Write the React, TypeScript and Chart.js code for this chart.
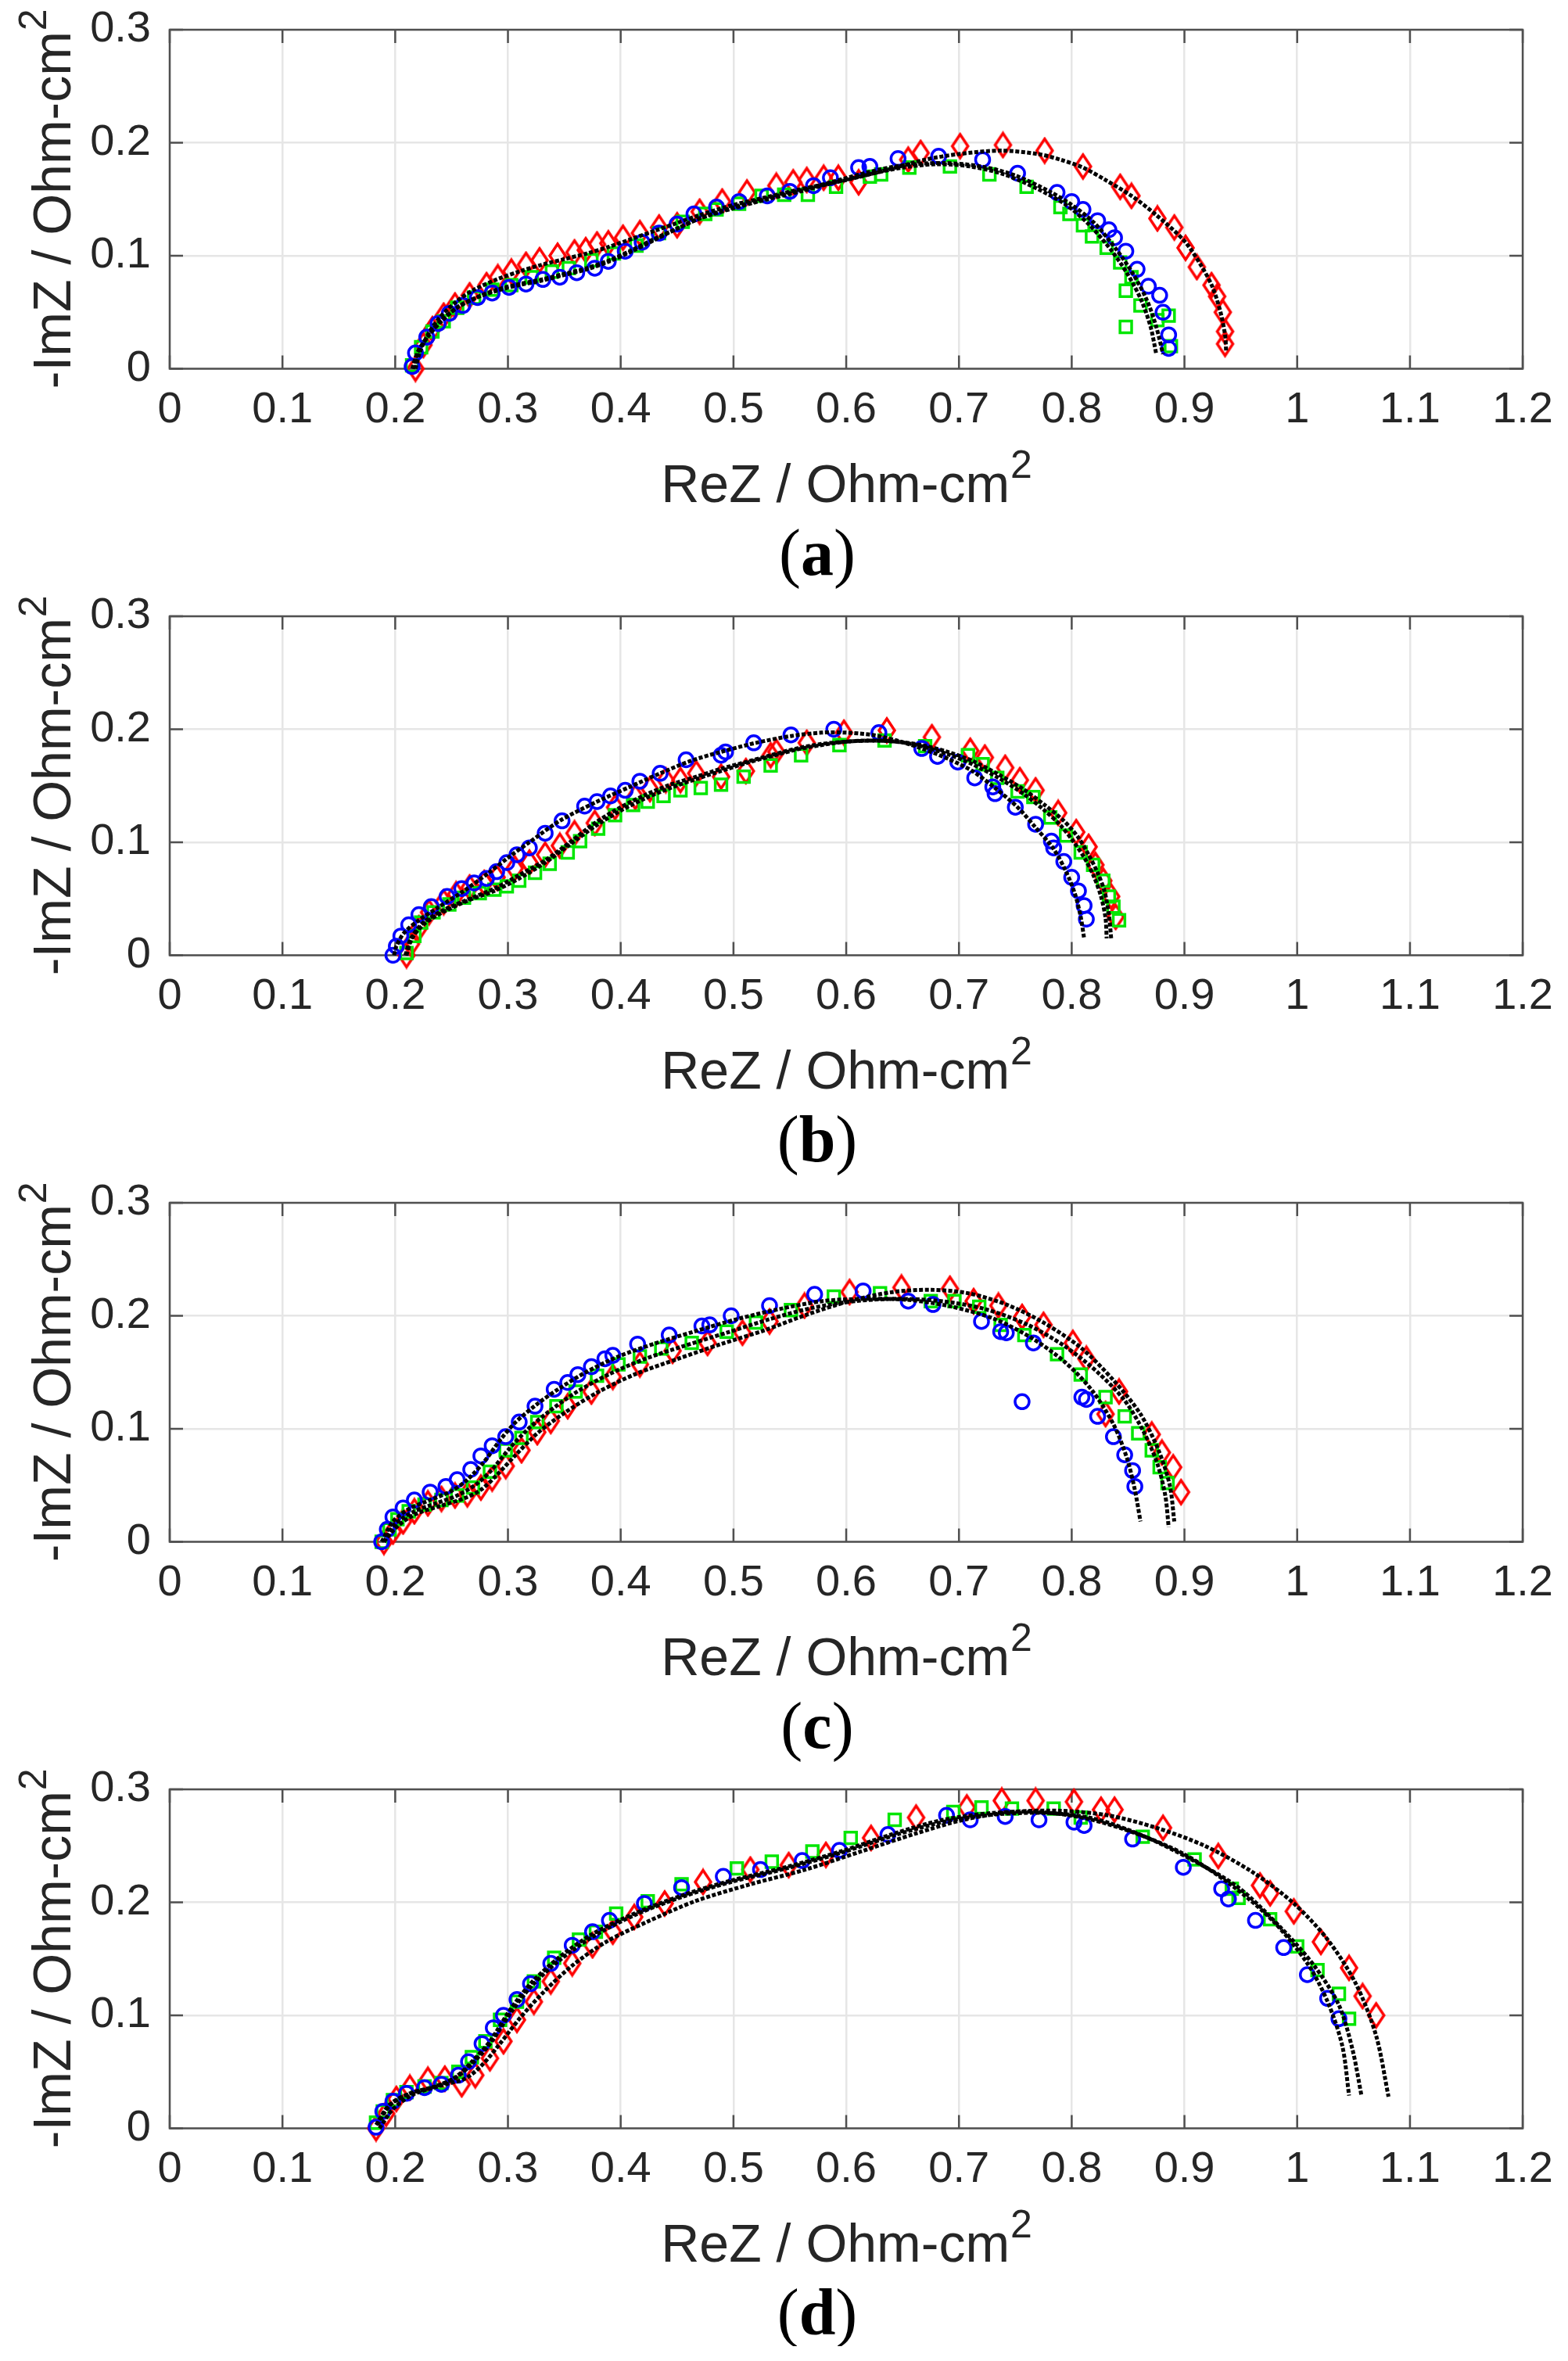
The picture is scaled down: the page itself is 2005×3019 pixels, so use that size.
import React, { useEffect, useRef } from "react";
import { Chart, registerables } from "chart.js";

Chart.register(...registerables);

// x tick values 0..1.2, y tick values 0..0.3
const xTicks = [0, 0.1, 0.2, 0.3, 0.4, 0.5, 0.6, 0.7, 0.8, 0.9, 1, 1.1, 1.2];
const yTicks = [0, 0.1, 0.2, 0.3];
const captions = ["a", "b", "c", "d"];
const xTitle = ["ReZ / Ohm-cm", "2"];
const yTitle = ["-ImZ / Ohm-cm", "2"];

// ---- panel (a) ----
const aBlue = [[0.215,0.002],[0.218,0.014],[0.228,0.028],[0.238,0.04],[0.248,0.049],[0.26,0.056],[0.273,0.063],[0.286,0.067],[0.301,0.072],[0.316,0.075],[0.331,0.079],[0.346,0.081],[0.361,0.085],[0.377,0.089],[0.389,0.095],[0.404,0.104],[0.419,0.112],[0.434,0.12],[0.45,0.128],[0.465,0.137],[0.485,0.143],[0.505,0.148],[0.53,0.153],[0.55,0.157],[0.571,0.162],[0.586,0.169],[0.611,0.178],[0.621,0.179],[0.646,0.186],[0.682,0.188],[0.721,0.185],[0.752,0.173],[0.787,0.156],[0.8,0.148],[0.81,0.141],[0.823,0.131],[0.833,0.123],[0.838,0.116],[0.848,0.104],[0.858,0.088],[0.868,0.073],[0.878,0.065],[0.881,0.05],[0.886,0.03],[0.886,0.018]];
const aRed = [[0.218,0.0],[0.225,0.021],[0.233,0.035],[0.243,0.047],[0.253,0.056],[0.266,0.065],[0.281,0.074],[0.291,0.081],[0.303,0.086],[0.316,0.092],[0.328,0.096],[0.344,0.1],[0.359,0.103],[0.369,0.105],[0.379,0.11],[0.389,0.111],[0.402,0.116],[0.417,0.12],[0.434,0.125],[0.45,0.127],[0.47,0.139],[0.49,0.148],[0.512,0.156],[0.538,0.162],[0.553,0.165],[0.565,0.167],[0.58,0.169],[0.593,0.169],[0.611,0.165],[0.655,0.185],[0.666,0.191],[0.701,0.197],[0.739,0.198],[0.776,0.193],[0.81,0.179],[0.843,0.161],[0.853,0.153],[0.876,0.133],[0.891,0.125],[0.901,0.107],[0.911,0.09],[0.924,0.074],[0.929,0.064],[0.934,0.05],[0.936,0.033],[0.936,0.022]];
const aGreen = [[0.215,0.003],[0.223,0.019],[0.233,0.033],[0.243,0.042],[0.255,0.054],[0.27,0.063],[0.286,0.07],[0.303,0.074],[0.321,0.081],[0.339,0.086],[0.354,0.089],[0.374,0.096],[0.394,0.102],[0.414,0.109],[0.434,0.12],[0.455,0.13],[0.475,0.137],[0.485,0.141],[0.505,0.146],[0.525,0.153],[0.545,0.154],[0.566,0.154],[0.591,0.161],[0.621,0.17],[0.631,0.172],[0.656,0.178],[0.692,0.179],[0.727,0.172],[0.76,0.161],[0.79,0.143],[0.798,0.137],[0.81,0.127],[0.818,0.117],[0.831,0.107],[0.843,0.094],[0.853,0.081],[0.848,0.069],[0.861,0.056],[0.848,0.037],[0.876,0.043],[0.886,0.047],[0.888,0.02]];
const aFitBlue = [[0.215,0],[0.22,0.015],[0.23,0.03],[0.24,0.042],[0.255,0.054],[0.27,0.062],[0.29,0.069],[0.31,0.074],[0.33,0.078],[0.35,0.083],[0.37,0.088],[0.39,0.095],[0.41,0.104],[0.43,0.114],[0.45,0.124],[0.47,0.133],[0.5,0.143],[0.53,0.151],[0.56,0.158],[0.59,0.166],[0.62,0.174],[0.65,0.18],[0.687,0.182],[0.72,0.179],[0.75,0.171],[0.78,0.157],[0.8,0.145],[0.82,0.129],[0.84,0.105],[0.855,0.083],[0.867,0.06],[0.875,0.037],[0.881,0.013]];
const aFitRed = [[0.218,0],[0.222,0.015],[0.23,0.032],[0.24,0.046],[0.255,0.06],[0.27,0.07],[0.29,0.079],[0.31,0.086],[0.33,0.092],[0.35,0.097],[0.37,0.102],[0.39,0.108],[0.41,0.115],[0.43,0.122],[0.45,0.129],[0.47,0.136],[0.5,0.145],[0.53,0.152],[0.56,0.159],[0.6,0.167],[0.64,0.177],[0.67,0.185],[0.7,0.19],[0.737,0.193],[0.77,0.19],[0.79,0.185],[0.81,0.178],[0.83,0.167],[0.853,0.153],[0.875,0.136],[0.9,0.113],[0.915,0.091],[0.925,0.072],[0.932,0.05],[0.936,0.03],[0.937,0.015]];
const aFitGreen = [[0.216,0],[0.221,0.016],[0.231,0.031],[0.242,0.043],[0.256,0.055],[0.272,0.063],[0.29,0.07],[0.31,0.075],[0.33,0.079],[0.35,0.084],[0.37,0.089],[0.39,0.096],[0.41,0.105],[0.43,0.115],[0.45,0.124],[0.47,0.133],[0.5,0.142],[0.53,0.15],[0.56,0.157],[0.59,0.165],[0.62,0.172],[0.65,0.178],[0.68,0.181],[0.71,0.179],[0.74,0.172],[0.77,0.159],[0.795,0.145],[0.815,0.128],[0.835,0.105],[0.85,0.083],[0.862,0.06],[0.87,0.037],[0.875,0.013]];

// ---- panel (b) ----
const bBlue = [[0.198,0],[0.201,0.008],[0.205,0.017],[0.212,0.027],[0.221,0.036],[0.232,0.043],[0.246,0.052],[0.259,0.059],[0.27,0.064],[0.281,0.068],[0.29,0.074],[0.299,0.082],[0.308,0.089],[0.319,0.095],[0.333,0.108],[0.348,0.119],[0.368,0.132],[0.379,0.136],[0.391,0.141],[0.404,0.146],[0.417,0.154],[0.435,0.161],[0.458,0.173],[0.489,0.177],[0.493,0.18],[0.518,0.188],[0.551,0.195],[0.589,0.2],[0.629,0.197],[0.667,0.183],[0.681,0.176],[0.699,0.171],[0.714,0.157],[0.73,0.149],[0.732,0.143],[0.75,0.131],[0.768,0.116],[0.782,0.101],[0.784,0.095],[0.793,0.083],[0.8,0.069],[0.806,0.057],[0.811,0.044],[0.813,0.032]];
const bRed = [[0.21,0.0],[0.214,0.01],[0.221,0.024],[0.23,0.038],[0.243,0.047],[0.254,0.054],[0.266,0.06],[0.279,0.064],[0.29,0.069],[0.306,0.077],[0.319,0.082],[0.333,0.089],[0.346,0.097],[0.359,0.108],[0.377,0.117],[0.395,0.131],[0.413,0.14],[0.426,0.147],[0.44,0.155],[0.453,0.155],[0.467,0.161],[0.489,0.158],[0.511,0.163],[0.533,0.177],[0.538,0.18],[0.565,0.188],[0.598,0.197],[0.636,0.199],[0.676,0.193],[0.71,0.181],[0.723,0.175],[0.741,0.166],[0.754,0.155],[0.768,0.146],[0.788,0.126],[0.804,0.109],[0.815,0.096],[0.821,0.08],[0.828,0.066],[0.835,0.052],[0.839,0.034]];
const bGreen = [[0.21,0.002],[0.217,0.017],[0.223,0.029],[0.234,0.038],[0.248,0.045],[0.261,0.051],[0.275,0.055],[0.288,0.058],[0.299,0.061],[0.31,0.066],[0.324,0.073],[0.337,0.081],[0.353,0.091],[0.364,0.101],[0.38,0.112],[0.395,0.124],[0.411,0.133],[0.424,0.136],[0.438,0.141],[0.453,0.146],[0.471,0.148],[0.489,0.151],[0.509,0.158],[0.533,0.168],[0.56,0.177],[0.594,0.186],[0.634,0.19],[0.67,0.185],[0.708,0.177],[0.721,0.169],[0.734,0.157],[0.752,0.145],[0.766,0.14],[0.781,0.122],[0.795,0.106],[0.808,0.091],[0.819,0.08],[0.828,0.066],[0.833,0.052],[0.837,0.043],[0.842,0.031]];
const bFitBlue = [[0.199,0],[0.201,0.008],[0.208,0.02],[0.221,0.031],[0.239,0.043],[0.261,0.057],[0.283,0.073],[0.301,0.087],[0.319,0.1],[0.346,0.119],[0.377,0.135],[0.408,0.149],[0.435,0.161],[0.462,0.172],[0.489,0.18],[0.52,0.188],[0.551,0.194],[0.578,0.197],[0.6,0.197],[0.623,0.195],[0.645,0.19],[0.667,0.183],[0.69,0.174],[0.712,0.163],[0.732,0.148],[0.752,0.131],[0.768,0.113],[0.784,0.094],[0.795,0.074],[0.803,0.054],[0.808,0.034],[0.811,0.015]];
const bFitRed = [[0.209,0],[0.214,0.015],[0.225,0.029],[0.243,0.04],[0.266,0.05],[0.288,0.059],[0.31,0.071],[0.333,0.084],[0.355,0.1],[0.377,0.117],[0.4,0.131],[0.422,0.142],[0.444,0.151],[0.467,0.158],[0.489,0.165],[0.511,0.171],[0.533,0.177],[0.556,0.183],[0.578,0.187],[0.6,0.189],[0.623,0.19],[0.645,0.189],[0.667,0.186],[0.69,0.18],[0.712,0.172],[0.735,0.16],[0.757,0.147],[0.776,0.133],[0.793,0.119],[0.806,0.104],[0.815,0.089],[0.823,0.073],[0.829,0.057],[0.833,0.036],[0.835,0.015]];
const bFitGreen = [[0.21,0],[0.215,0.015],[0.226,0.028],[0.244,0.039],[0.266,0.049],[0.288,0.057],[0.31,0.068],[0.333,0.082],[0.355,0.098],[0.377,0.114],[0.4,0.128],[0.422,0.139],[0.444,0.148],[0.467,0.156],[0.489,0.163],[0.511,0.17],[0.533,0.176],[0.556,0.182],[0.578,0.186],[0.6,0.189],[0.623,0.19],[0.645,0.189],[0.667,0.185],[0.69,0.178],[0.712,0.169],[0.735,0.157],[0.757,0.143],[0.775,0.129],[0.79,0.115],[0.802,0.1],[0.812,0.085],[0.82,0.069],[0.826,0.052],[0.83,0.033],[0.831,0.015]];

// ---- panel (c) ----
const cBlue = [[0.188,0],[0.193,0.011],[0.198,0.022],[0.207,0.03],[0.217,0.037],[0.231,0.044],[0.245,0.049],[0.255,0.055],[0.267,0.064],[0.276,0.076],[0.286,0.085],[0.298,0.093],[0.31,0.106],[0.324,0.12],[0.341,0.135],[0.353,0.141],[0.362,0.148],[0.374,0.155],[0.386,0.162],[0.393,0.165],[0.415,0.175],[0.443,0.183],[0.472,0.191],[0.479,0.192],[0.498,0.2],[0.532,0.209],[0.572,0.219],[0.615,0.222],[0.655,0.213],[0.677,0.21],[0.72,0.195],[0.737,0.186],[0.742,0.185],[0.766,0.176],[0.756,0.124],[0.809,0.128],[0.813,0.126],[0.823,0.111],[0.837,0.093],[0.847,0.077],[0.854,0.063],[0.856,0.049]];
const cRed = [[0.19,0],[0.198,0.009],[0.207,0.018],[0.217,0.027],[0.229,0.034],[0.241,0.038],[0.253,0.041],[0.264,0.042],[0.276,0.048],[0.286,0.056],[0.298,0.067],[0.312,0.081],[0.326,0.097],[0.338,0.107],[0.353,0.12],[0.374,0.133],[0.393,0.146],[0.417,0.157],[0.446,0.169],[0.477,0.176],[0.508,0.185],[0.532,0.195],[0.563,0.209],[0.603,0.221],[0.649,0.225],[0.692,0.224],[0.713,0.213],[0.735,0.209],[0.756,0.199],[0.775,0.192],[0.801,0.176],[0.813,0.162],[0.842,0.133],[0.83,0.113],[0.871,0.095],[0.88,0.079],[0.89,0.066],[0.897,0.044]];
const cGreen = [[0.188,0],[0.195,0.011],[0.202,0.02],[0.212,0.027],[0.226,0.033],[0.241,0.037],[0.255,0.041],[0.269,0.048],[0.284,0.062],[0.298,0.081],[0.312,0.092],[0.326,0.106],[0.343,0.12],[0.36,0.133],[0.379,0.147],[0.398,0.157],[0.417,0.164],[0.436,0.171],[0.463,0.176],[0.494,0.186],[0.52,0.194],[0.551,0.205],[0.589,0.217],[0.63,0.22],[0.675,0.213],[0.696,0.213],[0.718,0.208],[0.737,0.192],[0.758,0.183],[0.787,0.166],[0.808,0.148],[0.83,0.128],[0.847,0.111],[0.859,0.096],[0.871,0.081],[0.878,0.066],[0.885,0.052]];
const cFitBlue = [[0.188,0],[0.198,0.018],[0.212,0.029],[0.231,0.037],[0.25,0.045],[0.264,0.055],[0.279,0.071],[0.293,0.09],[0.307,0.106],[0.326,0.122],[0.346,0.136],[0.369,0.15],[0.398,0.164],[0.432,0.176],[0.465,0.186],[0.503,0.197],[0.541,0.206],[0.579,0.213],[0.618,0.215],[0.656,0.214],[0.694,0.208],[0.732,0.197],[0.765,0.18],[0.794,0.159],[0.818,0.134],[0.837,0.104],[0.849,0.074],[0.856,0.046],[0.861,0.018]];
const cFitGreen = [[0.19,0],[0.2,0.016],[0.217,0.027],[0.236,0.034],[0.255,0.041],[0.272,0.051],[0.286,0.064],[0.3,0.081],[0.317,0.099],[0.336,0.115],[0.36,0.132],[0.389,0.148],[0.422,0.162],[0.455,0.173],[0.494,0.185],[0.532,0.197],[0.57,0.207],[0.608,0.213],[0.646,0.215],[0.684,0.213],[0.723,0.206],[0.761,0.192],[0.794,0.173],[0.823,0.15],[0.847,0.125],[0.864,0.097],[0.876,0.069],[0.883,0.041],[0.886,0.013]];
const cFitRed = [[0.19,0],[0.2,0.012],[0.217,0.024],[0.241,0.032],[0.26,0.038],[0.276,0.046],[0.291,0.06],[0.307,0.077],[0.326,0.096],[0.35,0.114],[0.379,0.132],[0.412,0.148],[0.451,0.162],[0.489,0.175],[0.527,0.187],[0.565,0.201],[0.603,0.213],[0.641,0.221],[0.675,0.223],[0.708,0.22],[0.742,0.21],[0.775,0.194],[0.809,0.171],[0.837,0.143],[0.861,0.113],[0.877,0.081],[0.887,0.05],[0.891,0.018]];

// ---- panel (d) ----
const dBlue = [[0.183,0.001],[0.189,0.015],[0.198,0.024],[0.21,0.031],[0.226,0.036],[0.241,0.039],[0.256,0.047],[0.265,0.059],[0.277,0.075],[0.287,0.089],[0.296,0.1],[0.308,0.114],[0.32,0.128],[0.338,0.146],[0.357,0.162],[0.375,0.174],[0.39,0.184],[0.421,0.199],[0.454,0.213],[0.491,0.223],[0.524,0.229],[0.561,0.237],[0.594,0.246],[0.637,0.26],[0.689,0.277],[0.71,0.273],[0.741,0.276],[0.771,0.273],[0.802,0.271],[0.811,0.268],[0.854,0.256],[0.899,0.231],[0.933,0.212],[0.939,0.203],[0.963,0.184],[0.988,0.16],[1.009,0.136],[1.027,0.115],[1.037,0.097]];
const dRed = [[0.183,0],[0.192,0.013],[0.201,0.026],[0.213,0.036],[0.229,0.043],[0.244,0.044],[0.259,0.039],[0.271,0.047],[0.284,0.062],[0.296,0.077],[0.308,0.096],[0.323,0.112],[0.338,0.13],[0.357,0.146],[0.375,0.162],[0.393,0.174],[0.412,0.187],[0.439,0.199],[0.473,0.218],[0.515,0.229],[0.549,0.233],[0.582,0.242],[0.622,0.257],[0.662,0.275],[0.707,0.284],[0.738,0.29],[0.768,0.29],[0.802,0.289],[0.826,0.282],[0.838,0.282],[0.881,0.266],[0.93,0.241],[0.967,0.215],[0.976,0.208],[0.997,0.192],[1.021,0.165],[1.046,0.142],[1.058,0.117],[1.07,0.1]];
const dGreen = [[0.183,0.005],[0.189,0.015],[0.198,0.025],[0.21,0.032],[0.226,0.037],[0.241,0.04],[0.256,0.05],[0.268,0.063],[0.28,0.077],[0.293,0.096],[0.308,0.112],[0.323,0.13],[0.341,0.151],[0.363,0.167],[0.378,0.174],[0.396,0.19],[0.424,0.201],[0.454,0.216],[0.503,0.23],[0.534,0.236],[0.57,0.245],[0.604,0.257],[0.643,0.273],[0.695,0.28],[0.72,0.284],[0.747,0.283],[0.784,0.283],[0.808,0.275],[0.863,0.258],[0.909,0.238],[0.942,0.212],[0.948,0.204],[0.976,0.185],[1.0,0.161],[1.018,0.14],[1.037,0.119],[1.046,0.097]];
const dFitBlue = [[0.183,0.003],[0.195,0.021],[0.213,0.031],[0.235,0.037],[0.253,0.045],[0.268,0.059],[0.284,0.077],[0.302,0.105],[0.32,0.128],[0.345,0.151],[0.375,0.172],[0.412,0.19],[0.454,0.206],[0.497,0.219],[0.546,0.231],[0.595,0.245],[0.643,0.261],[0.686,0.273],[0.729,0.279],[0.771,0.28],[0.814,0.274],[0.857,0.261],[0.899,0.243],[0.942,0.215],[0.979,0.183],[1.009,0.146],[1.027,0.112],[1.04,0.073],[1.046,0.029]];
const dFitGreen = [[0.184,0.003],[0.196,0.021],[0.214,0.031],[0.236,0.037],[0.254,0.045],[0.269,0.058],[0.285,0.076],[0.303,0.103],[0.321,0.126],[0.346,0.149],[0.376,0.17],[0.413,0.189],[0.455,0.205],[0.498,0.218],[0.547,0.23],[0.596,0.244],[0.645,0.26],[0.69,0.272],[0.735,0.278],[0.78,0.279],[0.82,0.274],[0.863,0.259],[0.906,0.238],[0.948,0.213],[0.985,0.178],[1.015,0.144],[1.037,0.109],[1.049,0.07],[1.057,0.029]];
const dFitRed = [[0.186,0],[0.198,0.017],[0.216,0.03],[0.241,0.038],[0.262,0.044],[0.277,0.056],[0.293,0.075],[0.311,0.098],[0.332,0.121],[0.357,0.144],[0.387,0.165],[0.424,0.183],[0.466,0.201],[0.515,0.216],[0.564,0.229],[0.613,0.245],[0.662,0.261],[0.704,0.273],[0.747,0.28],[0.79,0.281],[0.832,0.277],[0.875,0.266],[0.918,0.25],[0.96,0.227],[0.997,0.199],[1.027,0.167],[1.052,0.128],[1.07,0.082],[1.081,0.028]];

const panelBlue = [aBlue, bBlue, cBlue, dBlue];
const panelRed = [aRed, bRed, cRed, dRed];
const panelGreen = [aGreen, bGreen, cGreen, dGreen];
const panelFits = [
  [aFitBlue, aFitRed, aFitGreen],
  [bFitBlue, bFitRed, bFitGreen],
  [cFitBlue, cFitRed, cFitGreen],
  [dFitBlue, dFitRed, dFitGreen],
];

const FONT = "'Liberation Sans', Arial, sans-serif";
const TEXT = "#262626";
const BLUE = "#0000ff";
const RED = "#ff0000";
const GREEN = "#00e600";
const CANVAS_W = 2005;
const CANVAS_H = 680;

const toXY = (pts: number[][]) => pts.map(([x, y]) => ({ x, y }));

function makeDiamond() {
  const c = document.createElement("canvas");
  c.width = 28;
  c.height = 36;
  const g = c.getContext("2d")!;
  g.strokeStyle = RED;
  g.lineWidth = 3.5;
  g.lineJoin = "miter";
  g.beginPath();
  g.moveTo(14, 3);
  g.lineTo(24, 18);
  g.lineTo(14, 33);
  g.lineTo(4, 18);
  g.closePath();
  g.stroke();
  return c;
}

// MATLAB-like box with inward ticks on all four sides
const boxPlugin = {
  id: "boxPlugin",
  beforeDatasetsDraw(chart: any) {
    const { ctx, chartArea, scales } = chart;
    const { left, right, top, bottom } = chartArea;
    const tick = 17;
    ctx.save();
    ctx.strokeStyle = "#505050";
    ctx.lineWidth = 2.5;
    ctx.beginPath();
    xTicks.forEach((v) => {
      const px = scales.x.getPixelForValue(v);
      ctx.moveTo(px, bottom);
      ctx.lineTo(px, bottom - tick);
      ctx.moveTo(px, top);
      ctx.lineTo(px, top + tick);
    });
    yTicks.forEach((v) => {
      const py = scales.y.getPixelForValue(v);
      ctx.moveTo(left, py);
      ctx.lineTo(left + tick, py);
      ctx.moveTo(right, py);
      ctx.lineTo(right - tick, py);
    });
    ctx.stroke();
    ctx.strokeRect(left, top, right - left, bottom - top);
    ctx.restore();
  },
};

// axis titles with a real superscript "2"
function drawSupTitle(ctx: CanvasRenderingContext2D, parts: string[], cx: number, base: number) {
  ctx.font = `68px ${FONT}`;
  const w1 = ctx.measureText(parts[0]).width;
  ctx.font = `50px ${FONT}`;
  const w2 = ctx.measureText(parts[1]).width;
  const x0 = cx - (w1 + w2) / 2;
  ctx.textBaseline = "alphabetic";
  ctx.textAlign = "left";
  ctx.font = `68px ${FONT}`;
  ctx.fillText(parts[0], x0, base);
  ctx.font = `50px ${FONT}`;
  ctx.fillText(parts[1], x0 + w1 + 1, base - 31);
}

const titlePlugin = {
  id: "titlePlugin",
  afterDraw(chart: any) {
    const { ctx, chartArea } = chart;
    const { left, right, top, bottom } = chartArea;
    ctx.save();
    ctx.fillStyle = TEXT;
    drawSupTitle(ctx, xTitle, (left + right) / 2, bottom + 170.5);
    ctx.translate(left - 127, (top + bottom) / 2);
    ctx.rotate(-Math.PI / 2);
    drawSupTitle(ctx, yTitle, 0, 0);
    ctx.restore();
  },
};

function Panel({ index }: { index: number }) {
  const canvasRef = useRef<HTMLCanvasElement | null>(null);
  const chartRef = useRef<Chart | null>(null);

  useEffect(() => {
    if (chartRef.current) chartRef.current.destroy();
    const ctx = canvasRef.current?.getContext("2d");
    if (!ctx) return;

    const fitSets = panelFits[index].map((pts) => ({
      data: toXY(pts),
      showLine: true,
      borderColor: "#000000",
      borderWidth: 5,
      borderDash: [5, 2.5],
      pointRadius: 0,
      tension: 0.3,
      fill: false,
      clip: false as any,
      order: 0,
    }));

    const markerBase = {
      backgroundColor: "rgba(0,0,0,0)",
      borderWidth: 3.5,
      showLine: false,
      clip: false as any,
      order: 1,
    };

    chartRef.current = new Chart(ctx, {
      type: "scatter",
      data: {
        datasets: [
          ...fitSets,
          {
            ...markerBase,
            data: toXY(panelBlue[index]),
            borderColor: BLUE,
            pointStyle: "circle",
            pointRadius: 9,
          },
          {
            ...markerBase,
            data: toXY(panelGreen[index]),
            borderColor: GREEN,
            pointStyle: "rect",
            pointRadius: 10.5,
          },
          {
            ...markerBase,
            data: toXY(panelRed[index]),
            borderColor: RED,
            pointStyle: makeDiamond() as any,
            pointRadius: 10,
          },
        ] as any,
      },
      options: {
        responsive: false,
        animation: false,
        events: [],
        layout: { padding: { top: 38, right: 56, left: 0, bottom: 0 } },
        plugins: { legend: { display: false }, tooltip: { enabled: false } },
        scales: {
          x: {
            type: "linear",
            min: 0,
            max: 1.2,
            afterBuildTicks: (s: any) => {
              s.ticks = xTicks.map((v) => ({ value: v }));
            },
            afterFit: (s: any) => {
              s.height = 208.5;
            },
            ticks: {
              padding: 19,
              color: TEXT,
              font: { family: FONT, size: 56 },
              maxRotation: 0,
              autoSkip: false,
              callback: (v: any) => String(Math.round(Number(v) * 10) / 10),
            },
            grid: { color: "#e6e6e6", lineWidth: 2.5, drawTicks: false },
            border: { display: false },
            title: { display: false },
          },
          y: {
            type: "linear",
            min: 0,
            max: 0.3,
            afterBuildTicks: (s: any) => {
              s.ticks = yTicks.map((v) => ({ value: v }));
            },
            afterFit: (s: any) => {
              s.width = 217;
              s.paddingTop = 30;
              s.paddingBottom = 30;
            },
            ticks: {
              padding: 24,
              color: TEXT,
              font: { family: FONT, size: 56 },
              callback: (v: any) => String(Math.round(Number(v) * 10) / 10),
            },
            grid: { color: "#e6e6e6", lineWidth: 2.5, drawTicks: false },
            border: { display: false },
            title: { display: false },
          },
        },
      },
      plugins: [boxPlugin, titlePlugin],
    });

    return () => {
      if (chartRef.current) chartRef.current.destroy();
      chartRef.current = null;
    };
  }, [index]);

  return (
    <div style={{ position: "relative", width: CANVAS_W, height: 750 }}>
      <canvas
        ref={canvasRef}
        width={CANVAS_W}
        height={CANVAS_H}
        style={{ display: "block", width: CANVAS_W, height: CANVAS_H }}
      ></canvas>
      <div
        style={{
          position: "absolute",
          top: 665,
          left: 1045,
          transform: "translateX(-50%)",
          fontFamily: "'Liberation Serif', 'Times New Roman', serif",
          fontSize: 84,
          lineHeight: 1,
          color: "#000",
          whiteSpace: "nowrap",
        }}
      >
        (<b>{captions[index]}</b>)
      </div>
    </div>
  );
}

export default function App() {
  useEffect(() => {
    document.body.style.margin = "0";
    document.body.style.background = "#ffffff";
  }, []);

  return (
    <div style={{ width: CANVAS_W, background: "#fff", overflow: "hidden" }}>
      {captions.map((_, i) => (
        <Panel key={i} index={i} />
      ))}
    </div>
  );
}
